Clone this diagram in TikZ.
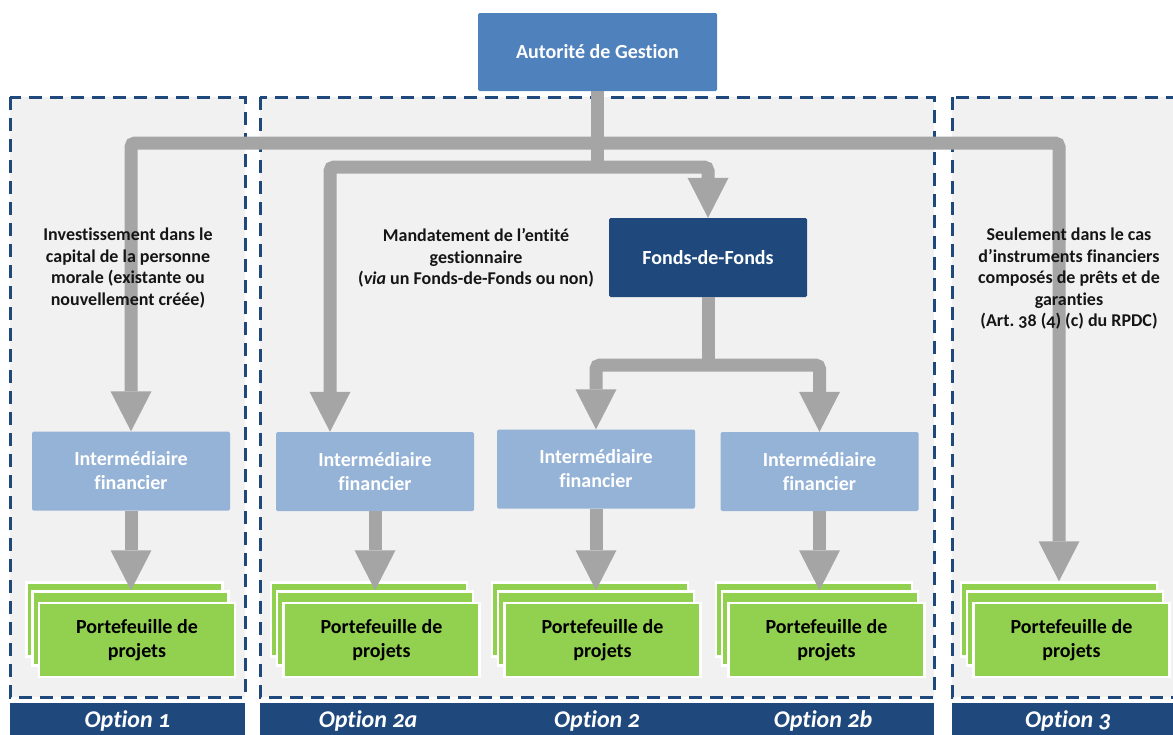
\documentclass[tikz,border=0pt]{standalone}
\usepackage{fontspec}
\setmainfont{Carlito}[Numbers=OldStyle,Ligatures=NoCommon]
\usetikzlibrary{arrows.meta,calc}
\definecolor{agblue}{HTML}{4F81BD}
\definecolor{navy}{HTML}{1F497D}
\definecolor{ifblue}{HTML}{95B3D7}
\definecolor{pfgreen}{HTML}{92D050}
\definecolor{arrowgray}{HTML}{A5A5A5}
\definecolor{panelgray}{HTML}{F1F1F1}
\definecolor{txtdark}{HTML}{151515}
\newcommand\pfstack[3]{%
  \node[pfbox] (#1b) at ($(#2,#3)+(-12.5,-20.5)$) {};
  \node[pfbox] (#1m) at ($(#2,#3)+(-6.5,-11.5)$) {};
  \node[pfbox] (#1) at (#2,#3) {Portefeuille de\\projets};}
\begin{document}
\begin{tikzpicture}[x=1pt,y=-1pt,
  panel/.style={fill=panelgray,draw=navy,line width=3pt,dash pattern=on 13pt off 8pt},
  optbar/.style={fill=navy},
  optlbl/.style={text=white,font=\fontsize{24}{28}\selectfont\bfseries\itshape,inner sep=0pt},
  agbox/.style={fill=agblue,text=white,minimum width=239pt,minimum height=78pt,inner sep=0pt,rounded corners=1.5pt,font=\fontsize{20}{24}\selectfont\bfseries,align=center},
  fofbox/.style={fill=navy,text=white,minimum width=198pt,minimum height=79pt,inner sep=0pt,rounded corners=1.5pt,font=\fontsize{20}{24}\selectfont\bfseries,align=center},
  ifbox/.style={fill=ifblue,text=white,minimum width=198pt,minimum height=79pt,inner sep=0pt,rounded corners=1.5pt,font=\fontsize{20}{24}\selectfont\bfseries,align=center},
  pfbox/.style={fill=pfgreen,draw=white,line width=2.5pt,text=black,minimum width=196pt,minimum height=74pt,inner sep=0pt,font=\fontsize{20}{24}\selectfont\bfseries,align=center},
  lbl/.style={text=txtdark,font=\fontsize{18}{21.5}\selectfont\bfseries,align=center,inner sep=0pt},
  flow/.style={draw=arrowgray,line width=13pt,rounded corners=4pt},
  tipend/.style={-{Triangle[width=41pt,length=40pt,line width=0pt]}},
  tipboth/.style={{Triangle[width=41pt,length=40pt,line width=0pt]}-{Triangle[width=41pt,length=40pt,line width=0pt]}}
]
\clip (0,0) rectangle (1173,734);
\fill[white] (0,0) rectangle (1173,734);

% panels
\path[panel] (10,97) rectangle (245,697);
\path[panel] (260,97) rectangle (934,697);
\path[panel] (952,97) rectangle (1190,697);

% option bars
\fill[optbar] (10,703) rectangle (245,740);
\fill[optbar] (260,703) rectangle (934,740);
\fill[optbar] (952,703) rectangle (1190,740);
\node[optlbl] (o1) at (127.5,721) {Option 1};
\node[optlbl] (o2a) at (368,721) {Option 2a};
\node[optlbl] (o2) at (597,721) {Option 2};
\node[optlbl] (o2b) at (823,721) {Option 2b};
\node[optlbl] (o3) at (1068,721) {Option 3};

% boxes
\node[agbox] (ag) at (597.5,52) {Autorité de Gestion};
\node[fofbox] (fof) at (708,257.5) {Fonds-de-Fonds};
\node[ifbox] (if1) at (131,471) {Intermédiaire\\financier};
\node[ifbox] (if2a) at (375,471.5) {Intermédiaire\\financier};
\node[ifbox] (if2) at (596,469) {Intermédiaire\\financier};
\node[ifbox] (if2b) at (819.5,471.5) {Intermédiaire\\financier};

\pfstack{pf1}{137}{640}
\pfstack{pf2a}{381.5}{640}
\pfstack{pf2}{602.5}{640}
\pfstack{pf2b}{826.5}{640}
\pfstack{pf3}{1071.5}{640}

% junctions
\coordinate (j1) at (597.5,143);
\coordinate (j2) at (597.5,167);
\coordinate (j3) at (708,365);

% connectors
\draw[flow] (ag.south) -- ($(j2)+(0,6)$);
\draw[flow,tipboth] (if1.north) |- (j1) -| (pf3b.north);
\draw[flow,tipboth] ([xshift=-45pt]if2a.north) |- (j2) -| (fof.north);
\draw[flow] (fof.south) -- ($(j3)+(0,6)$);
\draw[flow,tipboth] (if2.north) |- (j3) -| (if2b.north);
\draw[flow,tipend] (if1.south) -- (if1.south |- pf1m.north);
\draw[flow,tipend] (if2a.south) -- (if2a.south |- pf2am.north);
\draw[flow,tipend] (if2.south) -- (if2.south |- pf2m.north);
\draw[flow,tipend] (if2b.south) -- (if2b.south |- pf2bm.north);

% panel texts
\node[lbl] (t1) at (128,268) {Investissement dans le\\capital de la personne\\morale (existante ou\\nouvellement créée)};
\node[lbl] (t2) at (476,258) {Mandatement de l’entité\\gestionnaire\\(\textit{via} un Fonds-de-Fonds ou non)};
\node[lbl] (t3) at (1069,279) {Seulement dans le cas\\d’instruments financiers\\composés de prêts et de\\garanties\\(Art.\ 38 (4) (c) du RPDC)};
\end{tikzpicture}
\end{document}
